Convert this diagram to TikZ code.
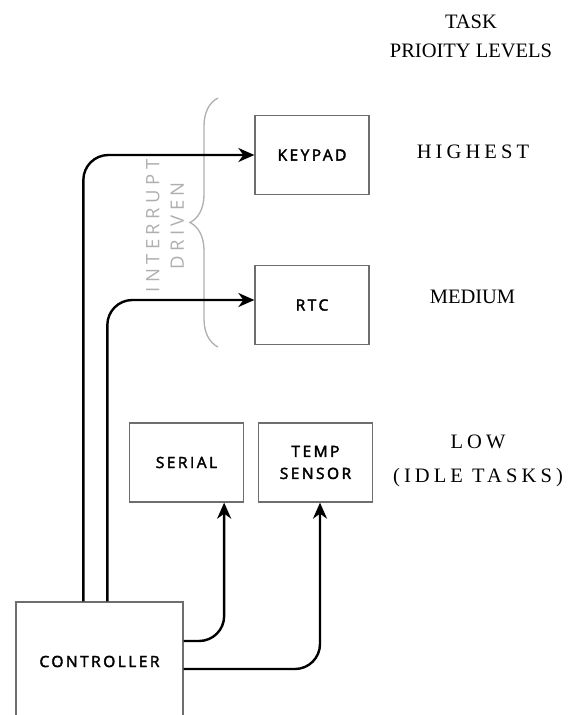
\documentclass[tikz,border=0pt]{standalone}
\usepackage{fontspec}
\setmainfont{Liberation Serif}
\newfontfamily\boxfont[LetterSpace=16,FakeBold=2.5]{Open Sans}
\newfontfamily\notefont[LetterSpace=24]{Open Sans}
\newfontfamily\levelfont[LetterSpace=20]{Liberation Serif}
\usetikzlibrary{arrows.meta,decorations.pathreplacing}
\definecolor{BoxGray}{RGB}{110,110,110}
\definecolor{SoftGray}{RGB}{175,175,175}
\tikzset{
  task/.style={draw=BoxGray, line width=1.3pt, minimum width=114pt, minimum height=79pt,
    font=\boxfont\fontsize{15.5}{22}\selectfont, align=center},
  flow/.style={line width=2.4pt, rounded corners=25pt, -{Stealth[length=16pt,width=14pt,inset=5pt]}},
  level/.style={font=\fontsize{20.5}{29}\selectfont, align=center}
}

\begin{document}
\begin{tikzpicture}[x=1pt,y=-1pt]
  \useasboundingbox (0,0) rectangle (572,715);
  % task boxes
  \node[task] (keypad) at (312,155) {KEYPAD};
  \node[task] (rtc) at (312,305) {RTC};
  \node[task] (serial) at (186.5,462.5) {SERIAL};
  \node[task] (temp) at (315.5,462.5) {TEMP\\SENSOR};
  \node[task, minimum width=167pt, minimum height=119pt] (ctrl) at (99.5,661.5) {CONTROLLER};

  % interrupt brace
  \draw[SoftGray, line width=1.3pt, decorate, decoration={brace, amplitude=28pt}] (218,347) -- (218,98);
  \node[rotate=90, text=SoftGray, font=\notefont\fontsize{18.5}{24.5}\selectfont, align=center] (irq) at (165,226) {INTERRUPT\\DRIVEN};

  % priority levels
  \node[level, anchor=base] (title) at (471,57) {TASK\\PRIOITY LEVELS};
  \node[level, font=\levelfont\fontsize{20.5}{24}\selectfont, anchor=base] (high) at (473,158) {HIGHEST};
  \node[level, anchor=base] (mid) at (472.5,303) {MEDIUM};
  \node[level, font=\levelfont\fontsize{20.5}{34}\selectfont, anchor=base] (low) at (478,482) {LOW\\(IDLE TASKS)};

  % connectors
  \draw[flow] ([xshift=68pt]ctrl.north west) |- (keypad.west);
  \draw[flow] ([xshift=92pt]ctrl.north west) |- ([yshift=5pt]rtc.west);
  \draw[flow] ([yshift=20.5pt]ctrl.east) -| ([xshift=-20pt]serial.south east);
  \draw[flow] ([yshift=-7.5pt]ctrl.east) -| ([xshift=4.5pt]temp.south);
\end{tikzpicture}
\end{document}
